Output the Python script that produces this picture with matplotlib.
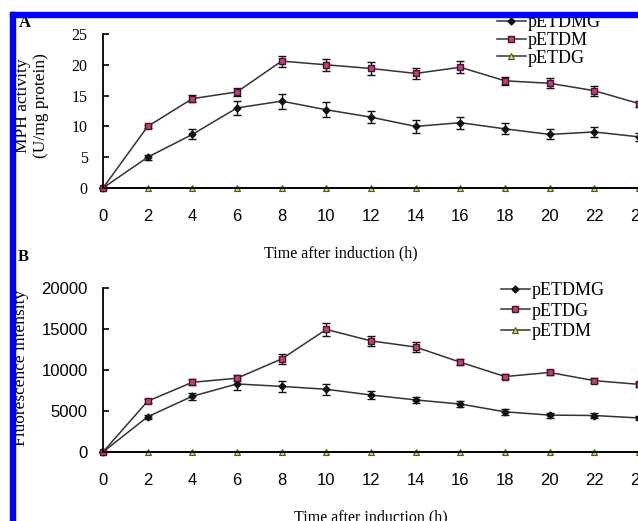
import numpy as np
import matplotlib
matplotlib.use("Agg")
import matplotlib.pyplot as plt
from matplotlib.patches import Rectangle
from matplotlib.lines import Line2D

# time points (h)
hours = [0, 2, 4, 6, 8, 10, 12, 14, 16, 18, 20, 22, 24]

# panel A: MPH activity (U/mg protein)
mph_dmg = [0, 5.0, 8.7, 13.0, 14.1, 12.7, 11.5, 10.0, 10.6, 9.6, 8.7, 9.1, 8.3]
mph_dmg_err = [0, 0.4, 0.8, 1.2, 1.2, 1.2, 1.0, 1.0, 1.0, 0.9, 0.8, 0.8, 0.6]
mph_dm = [0, 10.0, 14.5, 15.6, 20.6, 20.0, 19.4, 18.6, 19.6, 17.4, 17.0, 15.8, 13.7]
mph_dm_err = [0, 0.3, 0.6, 0.6, 0.9, 1.0, 1.0, 0.9, 1.0, 0.6, 0.8, 0.8, 0.5]
mph_dg = [0] * 13

# panel B: fluorescence intensity
fl_dmg = [0, 4300, 6800, 8300, 8000, 7650, 6950, 6350, 5850, 4900, 4500, 4450, 4150]
fl_dmg_err = [0, 250, 400, 700, 700, 700, 500, 400, 400, 400, 300, 300, 300]
fl_dg = [0, 6200, 8500, 9000, 11350, 14950, 13550, 12800, 10950, 9200, 9700, 8700, 8250]
fl_dg_err = [0, 250, 350, 350, 600, 800, 600, 600, 400, 300, 300, 300, 300]
fl_dm = [0] * 13

W, H = 638, 521
fig = plt.figure(figsize=(W / 100, H / 100), dpi=100)

def px(x0, y0, x1, y1):
    # pixel box -> figure fraction rect
    return [x0 / W, 1 - y1 / H, (x1 - x0) / W, (y1 - y0) / H]

line_c = "#333333"
dmg_style = dict(marker="D", ms=3.5, mfc="#111111", mec="#111111")
sq_style = dict(marker="s", ms=5, mfc="#c0407a", mec="#4a1030", mew=1)
tri_style = dict(marker="^", ms=5, mfc="#d8d860", mec="#555520", mew=0.8)

def style_axes(ax, ytick_font):
    for s in ["top", "right"]:
        ax.spines[s].set_visible(False)
    ax.spines["left"].set_linewidth(1.3)
    ax.spines["bottom"].set_linewidth(1.3)
    ax.set_xlim(0, 24)
    ax.set_xticks(hours)
    ax.tick_params(axis="x", length=0, pad=15, labelsize=12)
    ax.tick_params(axis="y", direction="in", length=4, width=1.2, pad=11)
    for lab in ax.get_xticklabels():
        lab.set_fontfamily("Liberation Sans")
    for lab in ax.get_yticklabels():
        lab.set_fontfamily(ytick_font)
    ax.set_facecolor("none")

def handle(style):
    return Line2D([], [], color=line_c, lw=1.1, **style)

leg_kw = dict(frameon=False, prop={"family": "Liberation Serif", "size": 13},
              handlelength=1.6, handletextpad=0.1, borderpad=0, borderaxespad=0,
              loc="upper left", bbox_transform=fig.transFigure)

# ---- panel A ----
axA = fig.add_axes(px(103, 34, 639, 188))
axA.errorbar(hours, mph_dmg, yerr=mph_dmg_err, color=line_c, lw=1.1, capsize=3,
             ecolor="#111111", elinewidth=1, clip_on=False, **dmg_style)
axA.errorbar(hours, mph_dm, yerr=mph_dm_err, color=line_c, lw=1.1, capsize=3,
             ecolor="#111111", elinewidth=1, clip_on=False, **sq_style)
axA.plot(hours, mph_dg, color=line_c, lw=1.3, clip_on=False, **tri_style)
axA.set_ylim(0, 25)
axA.set_yticks([0, 5, 10, 15, 20, 25])
axA.tick_params(axis="y", labelsize=11.5)
style_axes(axA, "Liberation Serif")
axA.legend([handle(dmg_style), handle(sq_style), handle(tri_style)],
           ["pETDMG", "pETDM", "pETDG"], bbox_to_anchor=(497 / W, 1 - 14 / H),
           labelspacing=0.05, **leg_kw)

# ---- panel B ----
axB = fig.add_axes(px(103, 288, 639, 452))
axB.errorbar(hours, fl_dmg, yerr=fl_dmg_err, color=line_c, lw=1.1, capsize=3,
             ecolor="#111111", elinewidth=1, clip_on=False, **dmg_style)
axB.errorbar(hours, fl_dg, yerr=fl_dg_err, color=line_c, lw=1.1, capsize=3,
             ecolor="#111111", elinewidth=1, clip_on=False, **sq_style)
axB.plot(hours, fl_dm, color=line_c, lw=1.3, clip_on=False, **tri_style)
axB.set_ylim(0, 20000)
axB.set_yticks([0, 5000, 10000, 15000, 20000])
axB.tick_params(axis="y", labelsize=12)
style_axes(axB, "Liberation Sans")
axB.legend([handle(dmg_style), handle(sq_style), handle(tri_style)],
           ["pETDMG", "pETDG", "pETDM"], bbox_to_anchor=(501 / W, 1 - 282 / H),
           labelspacing=0.2, **leg_kw)

# labels
serif = "Liberation Serif"
fig.text(341 / W, 1 - 253 / H, "Time after induction (h)", ha="center", va="center",
         family=serif, fontsize=11.5)
fig.text(371 / W, 1 - 517 / H, "Time after induction (h)", ha="center", va="center",
         family=serif, fontsize=11.5)
fig.text(32 / W, 1 - 106 / H, "MPH activity\n(U/mg protein)", ha="center", va="center",
         rotation=90, family=serif, fontsize=12.5, linespacing=1.2, multialignment="center")
fig.text(21 / W, 1 - 368 / H, "Fluorescence intensity", ha="center", va="center",
         rotation=90, family=serif, fontsize=12.5)
fig.text(25 / W, 1 - 23 / H, "A", ha="center", va="center", family=serif,
         fontsize=12, fontweight="bold")
fig.text(23 / W, 1 - 257 / H, "B", ha="center", va="center", family=serif,
         fontsize=12, fontweight="bold")

# blue frame (top and left edges visible)
fig.patches.append(Rectangle((10 / W, 0), 5 / W, 1 - 12 / H, transform=fig.transFigure,
                             color="#0000ff", zorder=10))
fig.patches.append(Rectangle((10 / W, 1 - 17 / H), 1 - 10 / W, 5 / H, transform=fig.transFigure,
                             color="#0000ff", zorder=10))

fig.savefig("out.png", dpi=100)
